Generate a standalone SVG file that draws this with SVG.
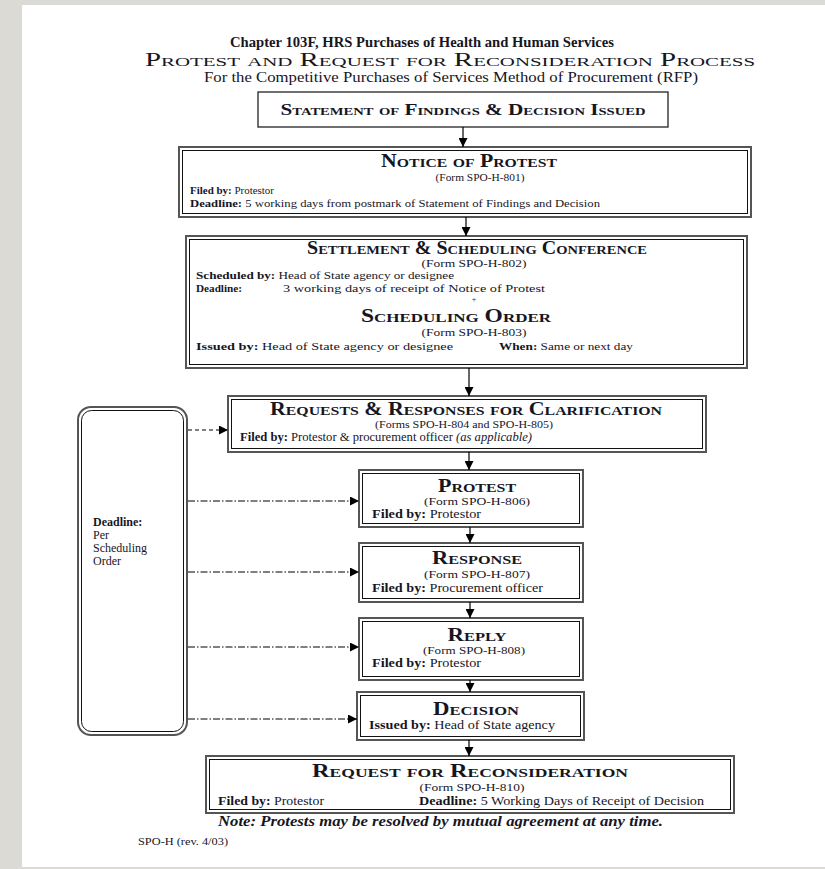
<svg xmlns="http://www.w3.org/2000/svg" width="825" height="869" viewBox="0 0 825 869">
<defs>
<marker id="ah" viewBox="0 0 10 10" refX="10" refY="5" markerWidth="9" markerHeight="9" markerUnits="userSpaceOnUse" orient="auto"><path d="M0,0 L10,5 L0,10 z" fill="#000"/></marker>
</defs>
<style>
text{font-family:"Liberation Serif","Times New Roman",serif;fill:#16161f}
.sc{font-variant:small-caps;font-weight:bold;font-size:18px}
.h1{font-weight:bold;font-size:15px}
.h2{font-variant:small-caps;font-size:18px}
.h3{font-size:15px}
.h4{font-variant:small-caps;font-weight:bold;font-size:16px}
.nt{font-style:italic;font-weight:bold;font-size:15px}
.rv{font-size:10.5px}
.m{text-anchor:middle}
.f{font-size:11px;text-anchor:middle}
.p{font-size:8px;text-anchor:middle}
.s{font-size:12px}
.s2{font-size:11.2px}
.b{font-weight:bold}
.it{font-style:italic}
.o{fill:none;stroke:#555;stroke-width:2}
.i{fill:none;stroke:#111;stroke-width:1}
.c{stroke:#000;stroke-width:1.2;fill:none}
.d{stroke:#000;stroke-width:1;fill:none;stroke-dasharray:7,2,1.5,2}
.d2{stroke:#000;stroke-width:1;fill:none;stroke-dasharray:4,3}
</style>
<rect width="825" height="869" fill="#dcdad5"/>
<rect x="22" y="5" width="803" height="862" fill="#fff"/>
<g id="title">
<text x="422" y="47" class="m h1" textLength="384" lengthAdjust="spacingAndGlyphs">Chapter 103F, HRS Purchases of Health and Human Services</text>
<text x="450" y="66" class="m h2" textLength="610" lengthAdjust="spacingAndGlyphs">Protest and Request for Reconsideration Process</text>
<text x="451" y="82" class="m h3" textLength="494" lengthAdjust="spacingAndGlyphs">For the Competitive Purchases of Services Method of Procurement (RFP)</text>
</g>
<g id="n1">
<rect x="258" y="92" width="410" height="35" fill="none" stroke="#222" stroke-width="1.3"/>
<text x="463" y="115" class="m h4" textLength="365" lengthAdjust="spacingAndGlyphs">Statement of Findings &amp; Decision Issued</text>
</g>
<g id="n2">
<rect x="179" y="147" width="572" height="70" class="o"/>
<rect x="182.5" y="150.5" width="565" height="63" class="i"/>
<text x="469" y="167" class="m sc" textLength="176" lengthAdjust="spacingAndGlyphs">Notice of Protest</text>
<text x="480" y="181" class="f" textLength="89" lengthAdjust="spacingAndGlyphs">(Form SPO-H-801)</text>
<text x="190" y="194" class="s2" textLength="84" lengthAdjust="spacingAndGlyphs"><tspan class="b">Filed by:</tspan>   Protestor</text>
<text x="190" y="207" class="s2" textLength="410" lengthAdjust="spacingAndGlyphs"><tspan class="b">Deadline:</tspan>  5 working days from postmark of Statement of Findings and Decision</text>
</g>
<g id="n3">
<rect x="186" y="236" width="561" height="132" class="o"/>
<rect x="189.5" y="239.5" width="554" height="125" class="i"/>
<text x="477" y="254" class="m sc" textLength="340" lengthAdjust="spacingAndGlyphs">Settlement &amp; Scheduling Conference</text>
<text x="474" y="267" class="f" textLength="105" lengthAdjust="spacingAndGlyphs">(Form SPO-H-802)</text>
<text x="196" y="279" class="s2" textLength="258" lengthAdjust="spacingAndGlyphs"><tspan class="b">Scheduled by:</tspan>  Head of State agency or designee</text>
<text x="196" y="292" class="s2 b">Deadline:</text>
<text x="283" y="292" class="s2" textLength="262" lengthAdjust="spacingAndGlyphs">3 working days of receipt of Notice of Protest</text>
<text x="474" y="302" class="p">+</text>
<text x="456" y="322" class="m sc" textLength="190" lengthAdjust="spacingAndGlyphs">Scheduling Order</text>
<text x="474" y="336" class="f" textLength="105" lengthAdjust="spacingAndGlyphs">(Form SPO-H-803)</text>
<text x="196" y="350" class="s2" textLength="257" lengthAdjust="spacingAndGlyphs"><tspan class="b">Issued by:</tspan>  Head of State agency or designee</text>
<text x="499" y="350" class="s2" textLength="134" lengthAdjust="spacingAndGlyphs"><tspan class="b">When:</tspan>  Same or next day</text>
</g>
<g id="n4">
<rect x="228" y="396" width="478" height="56" class="o"/>
<rect x="231.5" y="399.5" width="471" height="49" class="i"/>
<text x="466" y="415" class="m sc" textLength="392" lengthAdjust="spacingAndGlyphs">Requests &amp; Responses for Clarification</text>
<text x="464" y="428" class="f" textLength="178" lengthAdjust="spacingAndGlyphs">(Forms SPO-H-804 and SPO-H-805)</text>
<text x="240" y="441" class="s" textLength="292" lengthAdjust="spacingAndGlyphs"><tspan class="b">Filed by:</tspan>  Protestor &amp; procurement officer <tspan class="it">(as applicable)</tspan></text>
</g>
<g id="n5">
<rect x="359" y="470" width="224" height="57" class="o"/>
<rect x="362.5" y="473.5" width="217" height="50" class="i"/>
<text x="477" y="492" class="m sc" textLength="78" lengthAdjust="spacingAndGlyphs">Protest</text>
<text x="477" y="505" class="f" textLength="106" lengthAdjust="spacingAndGlyphs">(Form SPO-H-806)</text>
<text x="372" y="518" class="s" textLength="109" lengthAdjust="spacingAndGlyphs"><tspan class="b">Filed by:</tspan>  Protestor</text>
</g>
<g id="n6">
<rect x="359" y="543" width="224" height="59" class="o"/>
<rect x="362.5" y="546.5" width="217" height="52" class="i"/>
<text x="477" y="564" class="m sc" textLength="90" lengthAdjust="spacingAndGlyphs">Response</text>
<text x="477" y="578" class="f" textLength="106" lengthAdjust="spacingAndGlyphs">(Form SPO-H-807)</text>
<text x="372" y="592" class="s" textLength="171" lengthAdjust="spacingAndGlyphs"><tspan class="b">Filed by:</tspan>  Procurement officer</text>
</g>
<g id="n7">
<rect x="359" y="618" width="224" height="62" class="o"/>
<rect x="362.5" y="621.5" width="217" height="55" class="i"/>
<text x="477" y="641" class="m sc" textLength="59" lengthAdjust="spacingAndGlyphs">Reply</text>
<text x="474" y="654" class="f" textLength="102" lengthAdjust="spacingAndGlyphs">(Form SPO-H-808)</text>
<text x="372" y="667" class="s" textLength="109" lengthAdjust="spacingAndGlyphs"><tspan class="b">Filed by:</tspan>  Protestor</text>
</g>
<g id="n8">
<rect x="357" y="692" width="227" height="48" class="o"/>
<rect x="360.5" y="695.5" width="220" height="41" class="i"/>
<text x="476" y="715" class="m sc" textLength="86" lengthAdjust="spacingAndGlyphs">Decision</text>
<text x="369" y="729" class="s" textLength="186" lengthAdjust="spacingAndGlyphs"><tspan class="b">Issued by:</tspan>  Head of State agency</text>
</g>
<g id="n9">
<rect x="206" y="756" width="528" height="57" class="o"/>
<rect x="209.5" y="759.5" width="521" height="50" class="i"/>
<text x="470" y="777" class="m sc" textLength="316" lengthAdjust="spacingAndGlyphs">Request for Reconsideration</text>
<text x="472" y="791" class="f" textLength="105" lengthAdjust="spacingAndGlyphs">(Form SPO-H-810)</text>
<text x="218" y="805" class="s" textLength="106" lengthAdjust="spacingAndGlyphs"><tspan class="b">Filed by:</tspan>  Protestor</text>
<text x="419" y="805" class="s" textLength="285" lengthAdjust="spacingAndGlyphs"><tspan class="b">Deadline:</tspan>  5 Working Days of Receipt of Decision</text>
</g>
<g id="deadline">
<rect x="78" y="407" width="109" height="328" rx="13" class="o"/>
<rect x="81.5" y="410.5" width="102" height="321" rx="10" class="i"/>
<text x="93" y="526" class="s b">Deadline:</text>
<text x="93" y="539" class="s">Per</text>
<text x="93" y="552" class="s">Scheduling</text>
<text x="93" y="565" class="s">Order</text>
</g>
<g id="notes">
<text x="218" y="826" class="nt" textLength="445" lengthAdjust="spacingAndGlyphs">Note:  Protests may be resolved by mutual agreement at any time.</text>
<text x="138" y="845" class="rv" textLength="90" lengthAdjust="spacingAndGlyphs">SPO-H (rev. 4/03)</text>
</g>
<g id="connectors">
<line x1="463" y1="127" x2="463" y2="147" class="c" marker-end="url(#ah)"/>
<line x1="466" y1="217" x2="466" y2="236" class="c" marker-end="url(#ah)"/>
<line x1="469" y1="368" x2="469" y2="396" class="c" marker-end="url(#ah)"/>
<line x1="469" y1="452" x2="469" y2="470" class="c" marker-end="url(#ah)"/>
<line x1="470" y1="527" x2="470" y2="543" class="c" marker-end="url(#ah)"/>
<line x1="470" y1="602" x2="470" y2="618" class="c" marker-end="url(#ah)"/>
<line x1="470" y1="680" x2="470" y2="692" class="c" marker-end="url(#ah)"/>
<line x1="469" y1="740" x2="469" y2="756" class="c" marker-end="url(#ah)"/>
<line x1="188" y1="430" x2="228" y2="430" class="d2" marker-end="url(#ah)"/>
<line x1="188" y1="501" x2="359" y2="501" class="d" marker-end="url(#ah)"/>
<line x1="188" y1="572" x2="359" y2="572" class="d" marker-end="url(#ah)"/>
<line x1="188" y1="647" x2="359" y2="647" class="d" marker-end="url(#ah)"/>
<line x1="188" y1="719" x2="357" y2="719" class="d" marker-end="url(#ah)"/>
</g>
</svg>
